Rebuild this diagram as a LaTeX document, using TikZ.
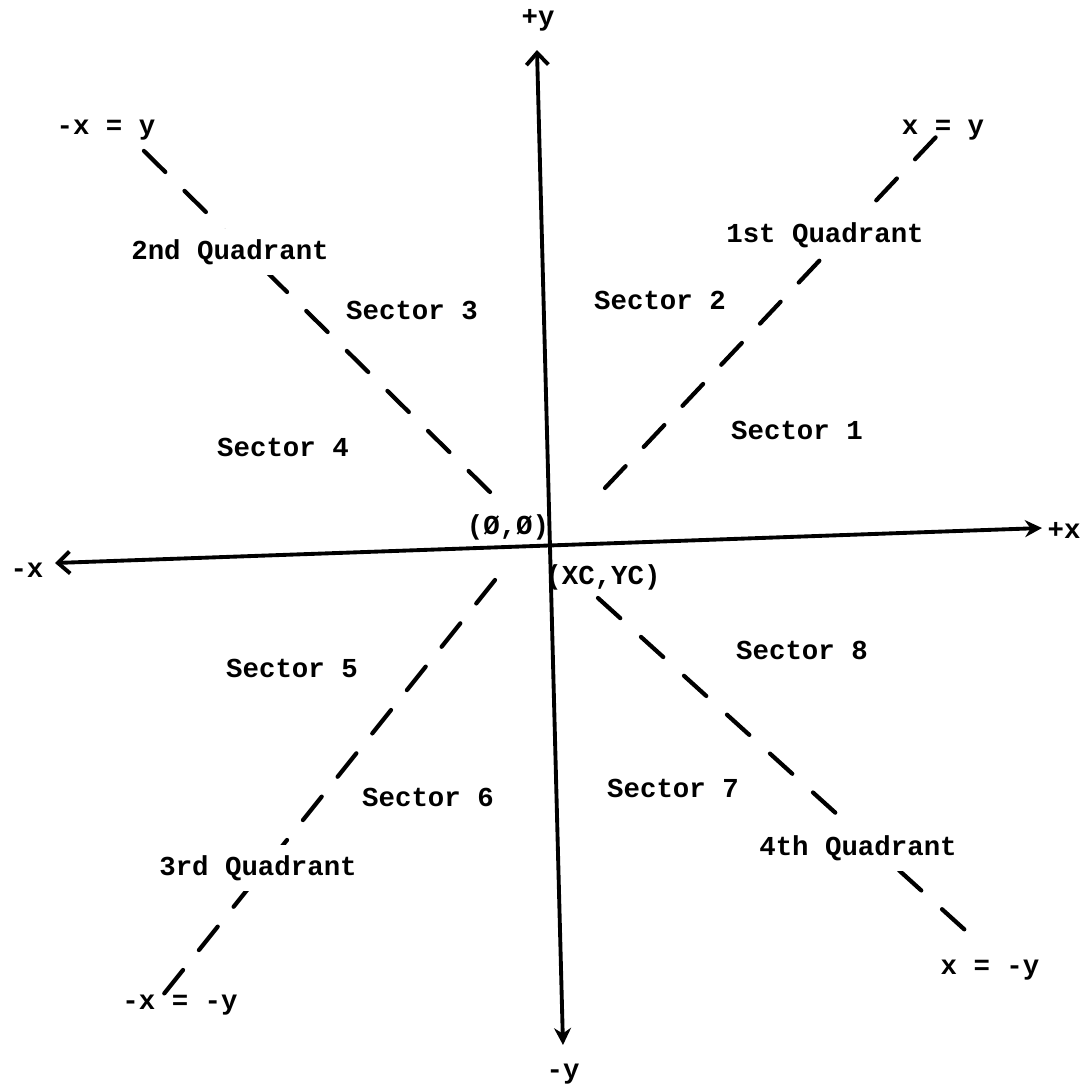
\documentclass[tikz,border=0pt]{standalone}
\usepackage{fontspec}
\setmainfont{Liberation Mono}
\usepackage{tikz}
\usetikzlibrary{arrows.meta}

\begin{document}
\begin{tikzpicture}[
  x=0.02cm, y=-0.02cm,
  axis/.style={line width=2.2pt},
  diag/.style={line width=2.4pt, line cap=round, dash pattern=on 0.6cm off #1},
  diag/.default=0.53cm,
  txt/.style={font=\fontsize{15.6}{18}\selectfont\bfseries, inner sep=1pt},
  quad/.style={txt, fill=white, inner xsep=3pt, inner ysep=6pt}
]
\useasboundingbox (0,0) rectangle (1084,1090);

% axis ends
\coordinate (xl) at (55,563);
\coordinate (xr) at (1042,528);
\coordinate (yt) at (537,50);
\coordinate (yb) at (563,1045);

% diagonal ends
\coordinate (ne1) at (605,488);  \coordinate (ne2) at (936,137);
\coordinate (nw1) at (490,492);  \coordinate (nw2) at (143,150);
\coordinate (sw1) at (495,580);  \coordinate (sw2) at (163,995);
\coordinate (se1) at (598,598);  \coordinate (se2) at (965,930);

% axes
\draw[axis, {Straight Barb[length=0.24cm,width=0.44cm]}-{Stealth[length=0.34cm,width=0.34cm]}] (xl) -- (xr);
\draw[axis, {Straight Barb[length=0.24cm,width=0.44cm]}-{Stealth[length=0.34cm,width=0.34cm]}] (yt) -- (yb);

% x = y lines
\draw[diag=0.53cm] (ne1) -- (ne2);
\draw[diag=0.54cm] (nw1) -- (nw2);
\draw[diag=0.51cm] (sw1) -- (sw2);
\draw[diag=0.56cm] (se1) -- (se2);

% axis labels
\node[txt] (py) at (538,20) {+y};
\node[txt] (my) at (563,1074) {-y};
\node[txt] (px) at (1064,530) {+x};
\node[txt] (mx) at (27,570) {-x};

% line labels
\node[txt] (lne) at (943,130) {x = y};
\node[txt] (lnw) at (106,130) {-x = y};
\node[txt] (lsw) at (180,1005) {-x = -y};
\node[txt] (lse) at (990,970) {x = -y};

% origin
\node[txt] (orig) at (508,527) {(Ø,Ø)};
\node[txt] (xcyc) at (603,577) {(XC,YC)};

% quadrants
\node[quad] (q1) at (825,235) {1st Quadrant};
\node[quad] (q2) at (230,252) {2nd Quadrant};
\node[quad] (q3) at (258,868) {3rd Quadrant};
\node[quad] (q4) at (858,848) {4th Quadrant};

% sectors
\node[txt] (s1) at (797,430) {Sector 1};
\node[txt] (s2) at (660,300) {Sector 2};
\node[txt] (s3) at (412,310) {Sector 3};
\node[txt] (s4) at (283,447) {Sector 4};
\node[txt] (s5) at (292,668) {Sector 5};
\node[txt] (s6) at (428,797) {Sector 6};
\node[txt] (s7) at (673,788) {Sector 7};
\node[txt] (s8) at (802,650) {Sector 8};

\end{tikzpicture}
\end{document}
